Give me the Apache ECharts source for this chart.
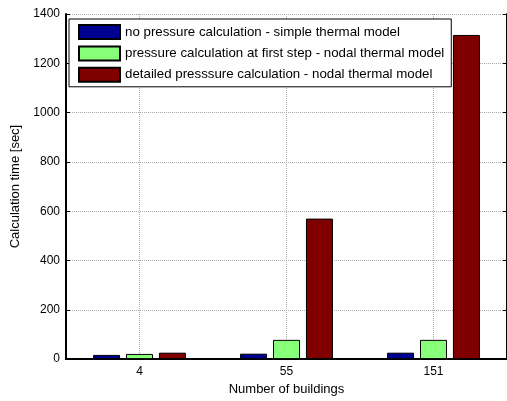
<!DOCTYPE html>
<html>
<head>
<meta charset="utf-8">
<script src="https://cdn.jsdelivr.net/npm/echarts@6/dist/echarts.min.js"></script>
<style>html,body{margin:0;padding:0;background:#fff}#c{width:507px;height:401px}</style>
</head>
<body>
<div id="c"></div>
<script>
const categories = ['4', '55', '151'];
const seriesNames = [
  'no pressure calculation - simple thermal model',
  'pressure calculation at first step - nodal thermal model',
  'detailed presssure calculation - nodal thermal model'
];
const noPressure = [17, 22, 26];
const firstStep = [21, 78, 78];
const detailed = [26, 570, 1315];
const yTicks = { min: 0, max: 1400, interval: 200 };
const colors = ['#000090', '#88ff78', '#800000'];

const font = 'Liberation Sans, Arial, sans-serif';
const chart = echarts.init(document.getElementById('c'), null, { renderer: 'canvas' });
const values = [noPressure, firstStep, detailed];
chart.setOption({
  animation: false,
  backgroundColor: '#fff',
  textStyle: { fontFamily: font },
  grid: { left: 66, right: -5, top: 14, bottom: 37.5, containLabel: false },
  legend: {
    orient: 'vertical', left: 69, top: 19,
    icon: 'rect',
    itemWidth: 41, itemHeight: 14, itemGap: 5.4,
    padding: [5, 7, 4, 9],
    borderColor: '#000', borderWidth: 1, backgroundColor: '#fff',
    textStyle: { fontFamily: font, fontSize: 13.3, lineHeight: 14, color: '#000' },
    data: seriesNames
  },
  xAxis: [{
    type: 'category', data: categories, position: 'bottom',
    name: 'Number of buildings', nameLocation: 'middle', nameGap: 23,
    nameTextStyle: { fontFamily: font, fontSize: 13, color: '#000' },
    axisLine: { lineStyle: { color: '#000', width: 2 } },
    axisTick: { inside: true, alignWithLabel: true, length: 4, lineStyle: { color: '#000' } },
    axisLabel: { fontFamily: font, fontSize: 12, color: '#000', margin: 7 },
    splitLine: { show: true, alignWithLabel: true, lineStyle: { color: '#aaa', type: 'dotted', width: 1 } }
  }, {
    type: 'category', data: categories, position: 'top',
    axisLine: { lineStyle: { color: '#000', width: 2 } },
    axisTick: { inside: true, alignWithLabel: true, length: 4, lineStyle: { color: '#000' } },
    axisLabel: { show: false }, splitLine: { show: false }
  }],
  yAxis: [{
    type: 'value', min: yTicks.min, max: yTicks.max, interval: yTicks.interval,
    name: 'Calculation time [sec]', nameLocation: 'middle', nameGap: 44,
    nameTextStyle: { fontFamily: font, fontSize: 13, color: '#000' },
    axisLine: { show: true, lineStyle: { color: '#000', width: 2 } },
    axisTick: { show: true, inside: true, length: 4, lineStyle: { color: '#000' } },
    axisLabel: { fontFamily: font, fontSize: 12, color: '#000', margin: 6, formatter: v => String(v) },
    splitLine: { show: true, lineStyle: { color: '#aaa', type: 'dotted', width: 1 } }
  }, {
    type: 'value', min: yTicks.min, max: yTicks.max, interval: yTicks.interval, position: 'right',
    axisLine: { show: true, lineStyle: { color: '#000', width: 2 } },
    axisTick: { show: true, inside: true, length: 4 }, axisLabel: { show: false }, splitLine: { show: false }
  }],
  series: seriesNames.map((n, i) => ({
    name: n, type: 'bar', data: values[i], barWidth: 27, barGap: '22%',
    itemStyle: { color: colors[i], borderColor: '#000', borderWidth: 1 }
  }))
});
</script>
</body>
</html>
